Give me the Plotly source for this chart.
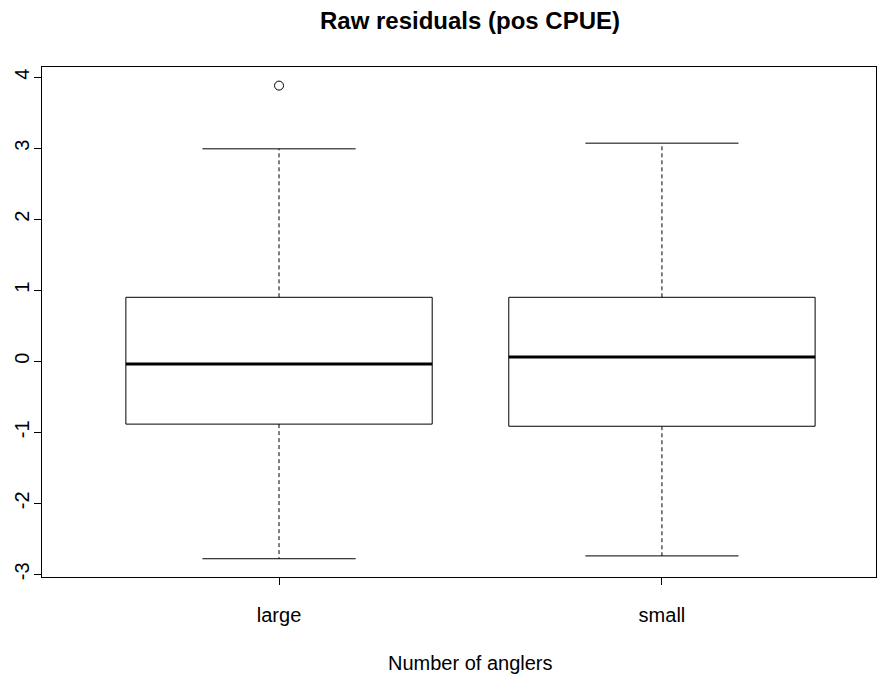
import plotly.graph_objects as go

categories = ["large", "small"]
q1 = [-0.885, -0.915]
median = [-0.04, 0.06]
q3 = [0.90, 0.90]
lower_whisker = [-2.78, -2.74]
upper_whisker = [2.99, 3.07]
outlier_group = ["large"]
outlier_values = [3.88]
y_ticks = [-3, -2, -1, 0, 1, 2, 3, 4]

positions = {c: i + 1 for i, c in enumerate(categories)}
BOX_HALF = 0.4
CAP_HALF = 0.2

fig = go.Figure()
line_black = dict(color="black", width=1)

for i, c in enumerate(categories):
    x0 = positions[c]
    fig.add_trace(go.Scatter(x=[x0, x0, None, x0, x0],
                             y=[q3[i], upper_whisker[i], None, q1[i], lower_whisker[i]],
                             mode="lines", line=dict(color="black", width=1, dash="4px,3px"),
                             hoverinfo="skip", showlegend=False))
    fig.add_trace(go.Scatter(x=[x0 - CAP_HALF, x0 + CAP_HALF, None, x0 - CAP_HALF, x0 + CAP_HALF],
                             y=[upper_whisker[i], upper_whisker[i], None, lower_whisker[i], lower_whisker[i]],
                             mode="lines", line=line_black, hoverinfo="skip", showlegend=False))
    fig.add_trace(go.Scatter(x=[x0 - BOX_HALF, x0 + BOX_HALF, x0 + BOX_HALF, x0 - BOX_HALF, x0 - BOX_HALF],
                             y=[q1[i], q1[i], q3[i], q3[i], q1[i]],
                             mode="lines", line=line_black, fill="toself", fillcolor="white",
                             hoverinfo="skip", showlegend=False))
    fig.add_trace(go.Scatter(x=[x0 - BOX_HALF, x0 + BOX_HALF], y=[median[i], median[i]],
                             mode="lines", line=dict(color="black", width=3),
                             hoverinfo="skip", showlegend=False))

fig.add_trace(go.Scatter(x=[positions[g] for g in outlier_group], y=outlier_values,
                         mode="markers",
                         marker=dict(symbol="circle-open", size=9, color="black", line=dict(width=1)),
                         hoverinfo="skip", showlegend=False))

font = dict(family="Liberation Sans, Arial, sans-serif", size=20, color="black")

W, H = 877, 681
L, R, T, B = 42, 1, 67, 104
plot_w, plot_h = W - L - R, H - T - B
fig.update_layout(
    width=W, height=H,
    margin=dict(l=L, r=R, t=T, b=B, autoexpand=False),
    paper_bgcolor="white", plot_bgcolor="white",
    font=font,
    xaxis=dict(range=[0.381, 2.559], tickvals=[positions[c] for c in categories], ticktext=categories,
               showgrid=False, zeroline=False, showline=True, linecolor="black", linewidth=1,
               mirror=True, ticks="outside", ticklen=7, tickcolor="black", automargin=False,
               ticklabelstandoff=13, tickfont=font),
    yaxis=dict(range=[-3.037, 4.142], tickvals=y_ticks, ticktext=[str(v) for v in y_ticks],
               showgrid=False, zeroline=False, showline=True, linecolor="black", linewidth=1,
               mirror=True, ticks="outside", ticklen=7, tickcolor="black", tickangle=-90,
               ticklabelstandoff=-3, automargin=False, tickfont=font),
    title=dict(text="<b>Raw residuals (pos CPUE)</b>", x=470 / W, xanchor="center",
               y=1 - 21 / H, yanchor="middle",
               font=dict(family="Liberation Sans, Arial, sans-serif", size=24, color="black")),
    annotations=[dict(text="Number of anglers", xref="paper", yref="paper",
                      x=(470 - L) / plot_w, y=-86 / plot_h, xanchor="center", yanchor="middle",
                      showarrow=False, font=font)],
)

post = ("document.body.style.margin='0';document.body.style.overflow='hidden';"
        "var gd=document.getElementById('{plot_id}');if(gd){Plotly.Plots.resize(gd);}")
fig.write_html("out.html", config={"responsive": False, "displayModeBar": False}, post_script=post)
